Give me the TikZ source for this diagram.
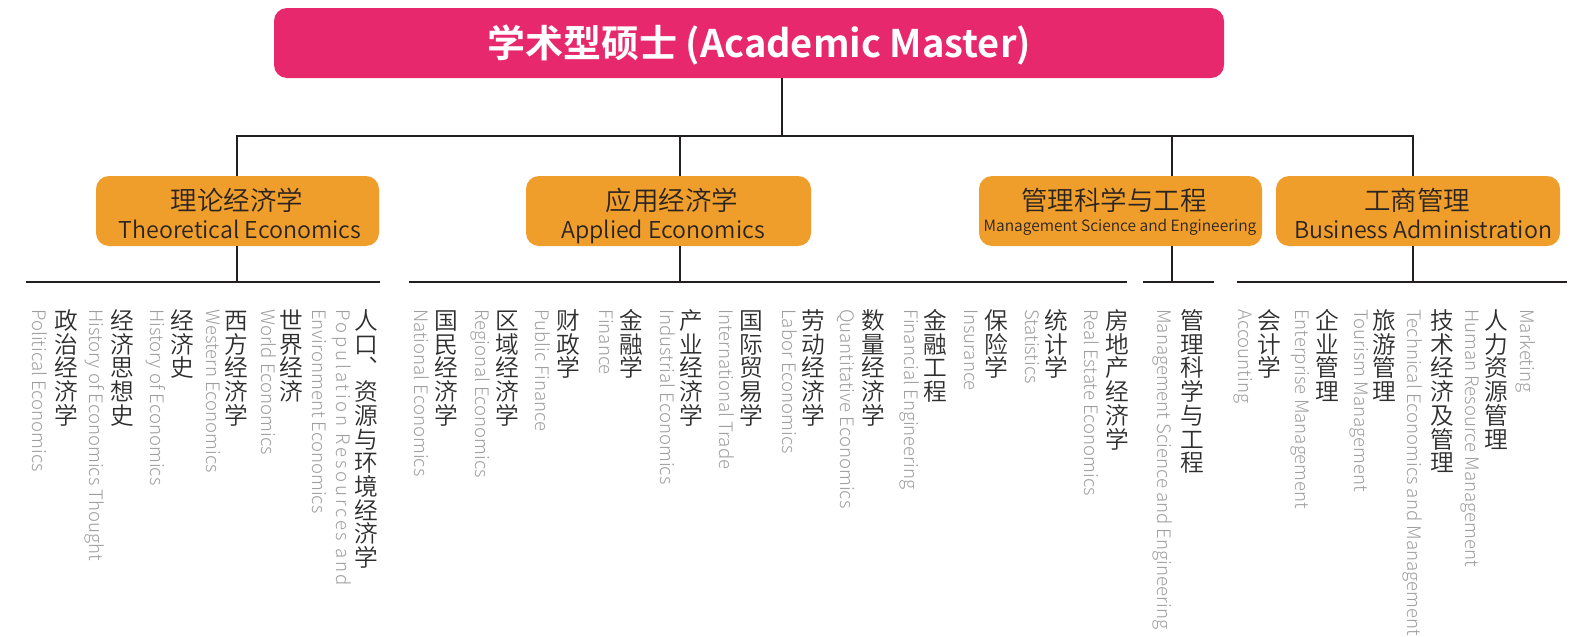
\documentclass[tikz,border=0pt]{standalone}
\usepackage{fontspec}
\setmainfont{Noto Sans CJK SC}
\IfFontExistsTF{Noto Sans CJK SC Light}{\newfontfamily\lightf{Noto Sans CJK SC Light}}{\newfontfamily\lightf{Noto Sans CJK SC}}
\IfFontExistsTF{Noto Sans CJK SC DemiLight}{\newfontfamily\demif{Noto Sans CJK SC DemiLight}}{\newfontfamily\demif{Noto Sans CJK SC}}
\IfFontExistsTF{Noto Sans CJK SC Bold}{\newfontfamily\boldf{Noto Sans CJK SC Bold}}{\newfontfamily\boldf{Noto Sans CJK SC}[FakeBold=2]}
\definecolor{pinkc}{HTML}{E8286C}
\definecolor{orangec}{HTML}{F09E2B}
\definecolor{linec}{HTML}{231F20}
\definecolor{cnc}{HTML}{2E2E2E}
\definecolor{enc}{HTML}{9E9E9E}
\definecolor{boxtxt}{HTML}{2A2420}
\def\vchx#1{\ifx\relax#1\else\hbox to 1em{\hss\vrule height .88em depth .12em width 0pt\relax #1\hss}\expandafter\vchx\fi}
\newcommand\vstack[1]{\vbox{\offinterlineskip\vchx#1\relax}}
\tikzset{
  conn/.style={draw=linec, line width=2.6pt},
  topbox/.style={fill=pinkc, rounded corners=13pt, inner sep=0pt},
  catbox/.style={fill=orangec, rounded corners=13pt, inner sep=0pt, minimum height=70pt},
  boxcn/.style={anchor=base, inner sep=0pt, text=boxtxt, font=\demif\fontsize{26.5}{26.5}\selectfont},
  boxen/.style={anchor=base, inner sep=0pt, text=boxtxt, font=\demif\fontsize{23.2}{23.2}\selectfont},
  cn/.style={anchor=north, inner sep=0pt, text=cnc, font=\demif\fontsize{23.7}{23.7}\selectfont},
  en/.style={anchor=base west, rotate=-90, inner sep=0pt, text=enc, font=\lightf\fontsize{18.6}{18.6}\selectfont},
}
\begin{document}
\begin{tikzpicture}[x=1pt,y=-1pt]
\useasboundingbox (0,0) rectangle (1585,637);
% top box
\node[topbox, minimum width=950pt, minimum height=70pt] (top) at (749,43) {};
\node[text=white, inner sep=0pt, font=\boldf\fontsize{38}{38}\selectfont] (title) at (759,45) {学术型硕士 (Academic Master)};
% category boxes
\node[catbox, minimum width=283pt] (b1) at (237.5,211) {};
\node[catbox, minimum width=285pt] (b2) at (668.5,211) {};
\node[catbox, minimum width=283pt] (b3) at (1120.5,211) {};
\node[catbox, minimum width=284pt] (b4) at (1418,211) {};
\node[boxcn] (b1c) at (237,210) {理论经济学};
\node[boxen] (b1e) at (240,238) {Theoretical Economics};
\node[boxcn] (b2c) at (672,210) {应用经济学};
\node[boxen] (b2e) at (663,238) {Applied Economics};
\node[boxcn] (b3c) at (1114,210) {管理科学与工程};
\node[boxen, font=\demif\fontsize{15.5}{15.5}\selectfont] (b3e) at (1120,231) {Management Science and Engineering};
\node[boxcn] (b4c) at (1417,210) {工商管理};
\node[boxen] (b4e) at (1423,238) {Business Administration};
% junction coordinates
\coordinate (t0) at (782,78);
\coordinate (h0) at (782,136);
\coordinate (h1) at (237,136);
\coordinate (h2) at (680,136);
\coordinate (h3) at (1172,136);
\coordinate (h4) at (1413,136);
\coordinate (d1) at (237,282);
\coordinate (d2) at (680,282);
\coordinate (d3) at (1172,282);
\coordinate (d4) at (1413,282);
\coordinate (g1l) at (26,282);  \coordinate (g1r) at (380,282);
\coordinate (g2l) at (409,282); \coordinate (g2r) at (1127,282);
\coordinate (g3l) at (1143,282);\coordinate (g3r) at (1214,282);
\coordinate (g4l) at (1237,282);\coordinate (g4r) at (1567,282);
% connectors
\draw[conn] (t0) -- (h0);
\draw[conn] (b1.north -| h1) -- (h1) -- (h4) -- (b4.north -| h4);
\draw[conn] (h2) -- (b2.north -| h2);
\draw[conn] (h3) -- (b3.north -| h3);
\draw[conn] (b1.south -| d1) -- (d1);
\draw[conn] (b2.south -| d2) -- (d2);
\draw[conn] (b3.south -| d3) -- (d3);
\draw[conn] (b4.south -| d4) -- (d4);
\draw[conn] (g1l) -- (g1r);
\draw[conn] (g2l) -- (g2r);
\draw[conn] (g3l) -- (g3r);
\draw[conn] (g4l) -- (g4r);
% group 1
\node[en] (e11) at (32,309) {Political Economics};
\node[cn] (c11) at (66,308.5) {\vstack{政治经济学}};
\node[en] (e12) at (89,309) {History of Economics Thought};
\node[cn] (c12) at (122,308.5) {\vstack{经济思想史}};
\node[en] (e13) at (150,309) {History of Economics};
\node[cn] (c13) at (182,308.5) {\vstack{经济史}};
\node[en] (e14) at (206,309) {Western Economics};
\node[cn] (c14) at (236,308.5) {\vstack{西方经济学}};
\node[en] (e15) at (261,309) {World Economics};
\node[cn] (c15) at (291,308.5) {\vstack{世界经济}};
\node[en] (e16b) at (312,309) {Environment Economics};
\node[en, font=\lightf\fontsize{18.6}{18.6}\selectfont\addfontfeature{LetterSpace=15}] (e16a) at (336,309) {Population Resources and};
\node[cn] (c16) at (366,308.5) {\vstack{人口︑资源与环境经济学}};
% group 2
\node[en] (e21) at (414,309) {National Economics};
\node[cn] (c21) at (446,308.5) {\vstack{国民经济学}};
\node[en] (e22) at (475,309) {Regional Economics};
\node[cn] (c22) at (507,308.5) {\vstack{区域经济学}};
\node[en] (e23) at (535,309) {Public Finance};
\node[cn] (c23) at (568,308.5) {\vstack{财政学}};
\node[en] (e24) at (599,309) {Finance};
\node[cn] (c24) at (631,308.5) {\vstack{金融学}};
\node[en] (e25) at (660,309) {Industrial Economics};
\node[cn] (c25) at (691,308.5) {\vstack{产业经济学}};
\node[en] (e26) at (719,309) {International Trade};
\node[cn] (c26) at (751,308.5) {\vstack{国际贸易学}};
\node[en] (e27) at (782,309) {Labor Economics};
\node[cn] (c27) at (813,308.5) {\vstack{劳动经济学}};
% group 3
\node[en] (e31) at (840,309) {Quantitative Economics};
\node[cn] (c31) at (873,308.5) {\vstack{数量经济学}};
\node[en] (e32) at (904,309) {Financial Engineering};
\node[cn] (c32) at (935,308.5) {\vstack{金融工程}};
\node[en] (e33) at (964,309) {Insurance};
\node[cn] (c33) at (996,308.5) {\vstack{保险学}};
\node[en] (e34) at (1025,309) {Statistics};
\node[cn] (c34) at (1056,308.5) {\vstack{统计学}};
\node[en] (e35) at (1084,309) {Real Estate Economics};
\node[cn] (c35) at (1117,308.5) {\vstack{房地产经济学}};
\node[en] (e36) at (1157,309) {Management Science and Engineering};
\node[cn] (c36) at (1192,308.5) {\vstack{管理科学与工程}};
% group 4
\node[en] (e41) at (1238,309) {Accounting};
\node[cn] (c41) at (1269,308.5) {\vstack{会计学}};
\node[en] (e42) at (1295,309) {Enterprise Management};
\node[cn] (c42) at (1327,308.5) {\vstack{企业管理}};
\node[en] (e43) at (1354,309) {Tourism Management};
\node[cn] (c43) at (1384,308.5) {\vstack{旅游管理}};
\node[en] (e44) at (1407,309) {Technical Economics and Management};
\node[cn] (c44) at (1442,308.5) {\vstack{技术经济及管理}};
\node[en] (e45) at (1465,309) {Human Resource Management};
\node[cn] (c45) at (1496,308.5) {\vstack{人力资源管理}};
\node[en] (e46) at (1520,309) {Marketing};
\end{tikzpicture}
\end{document}
